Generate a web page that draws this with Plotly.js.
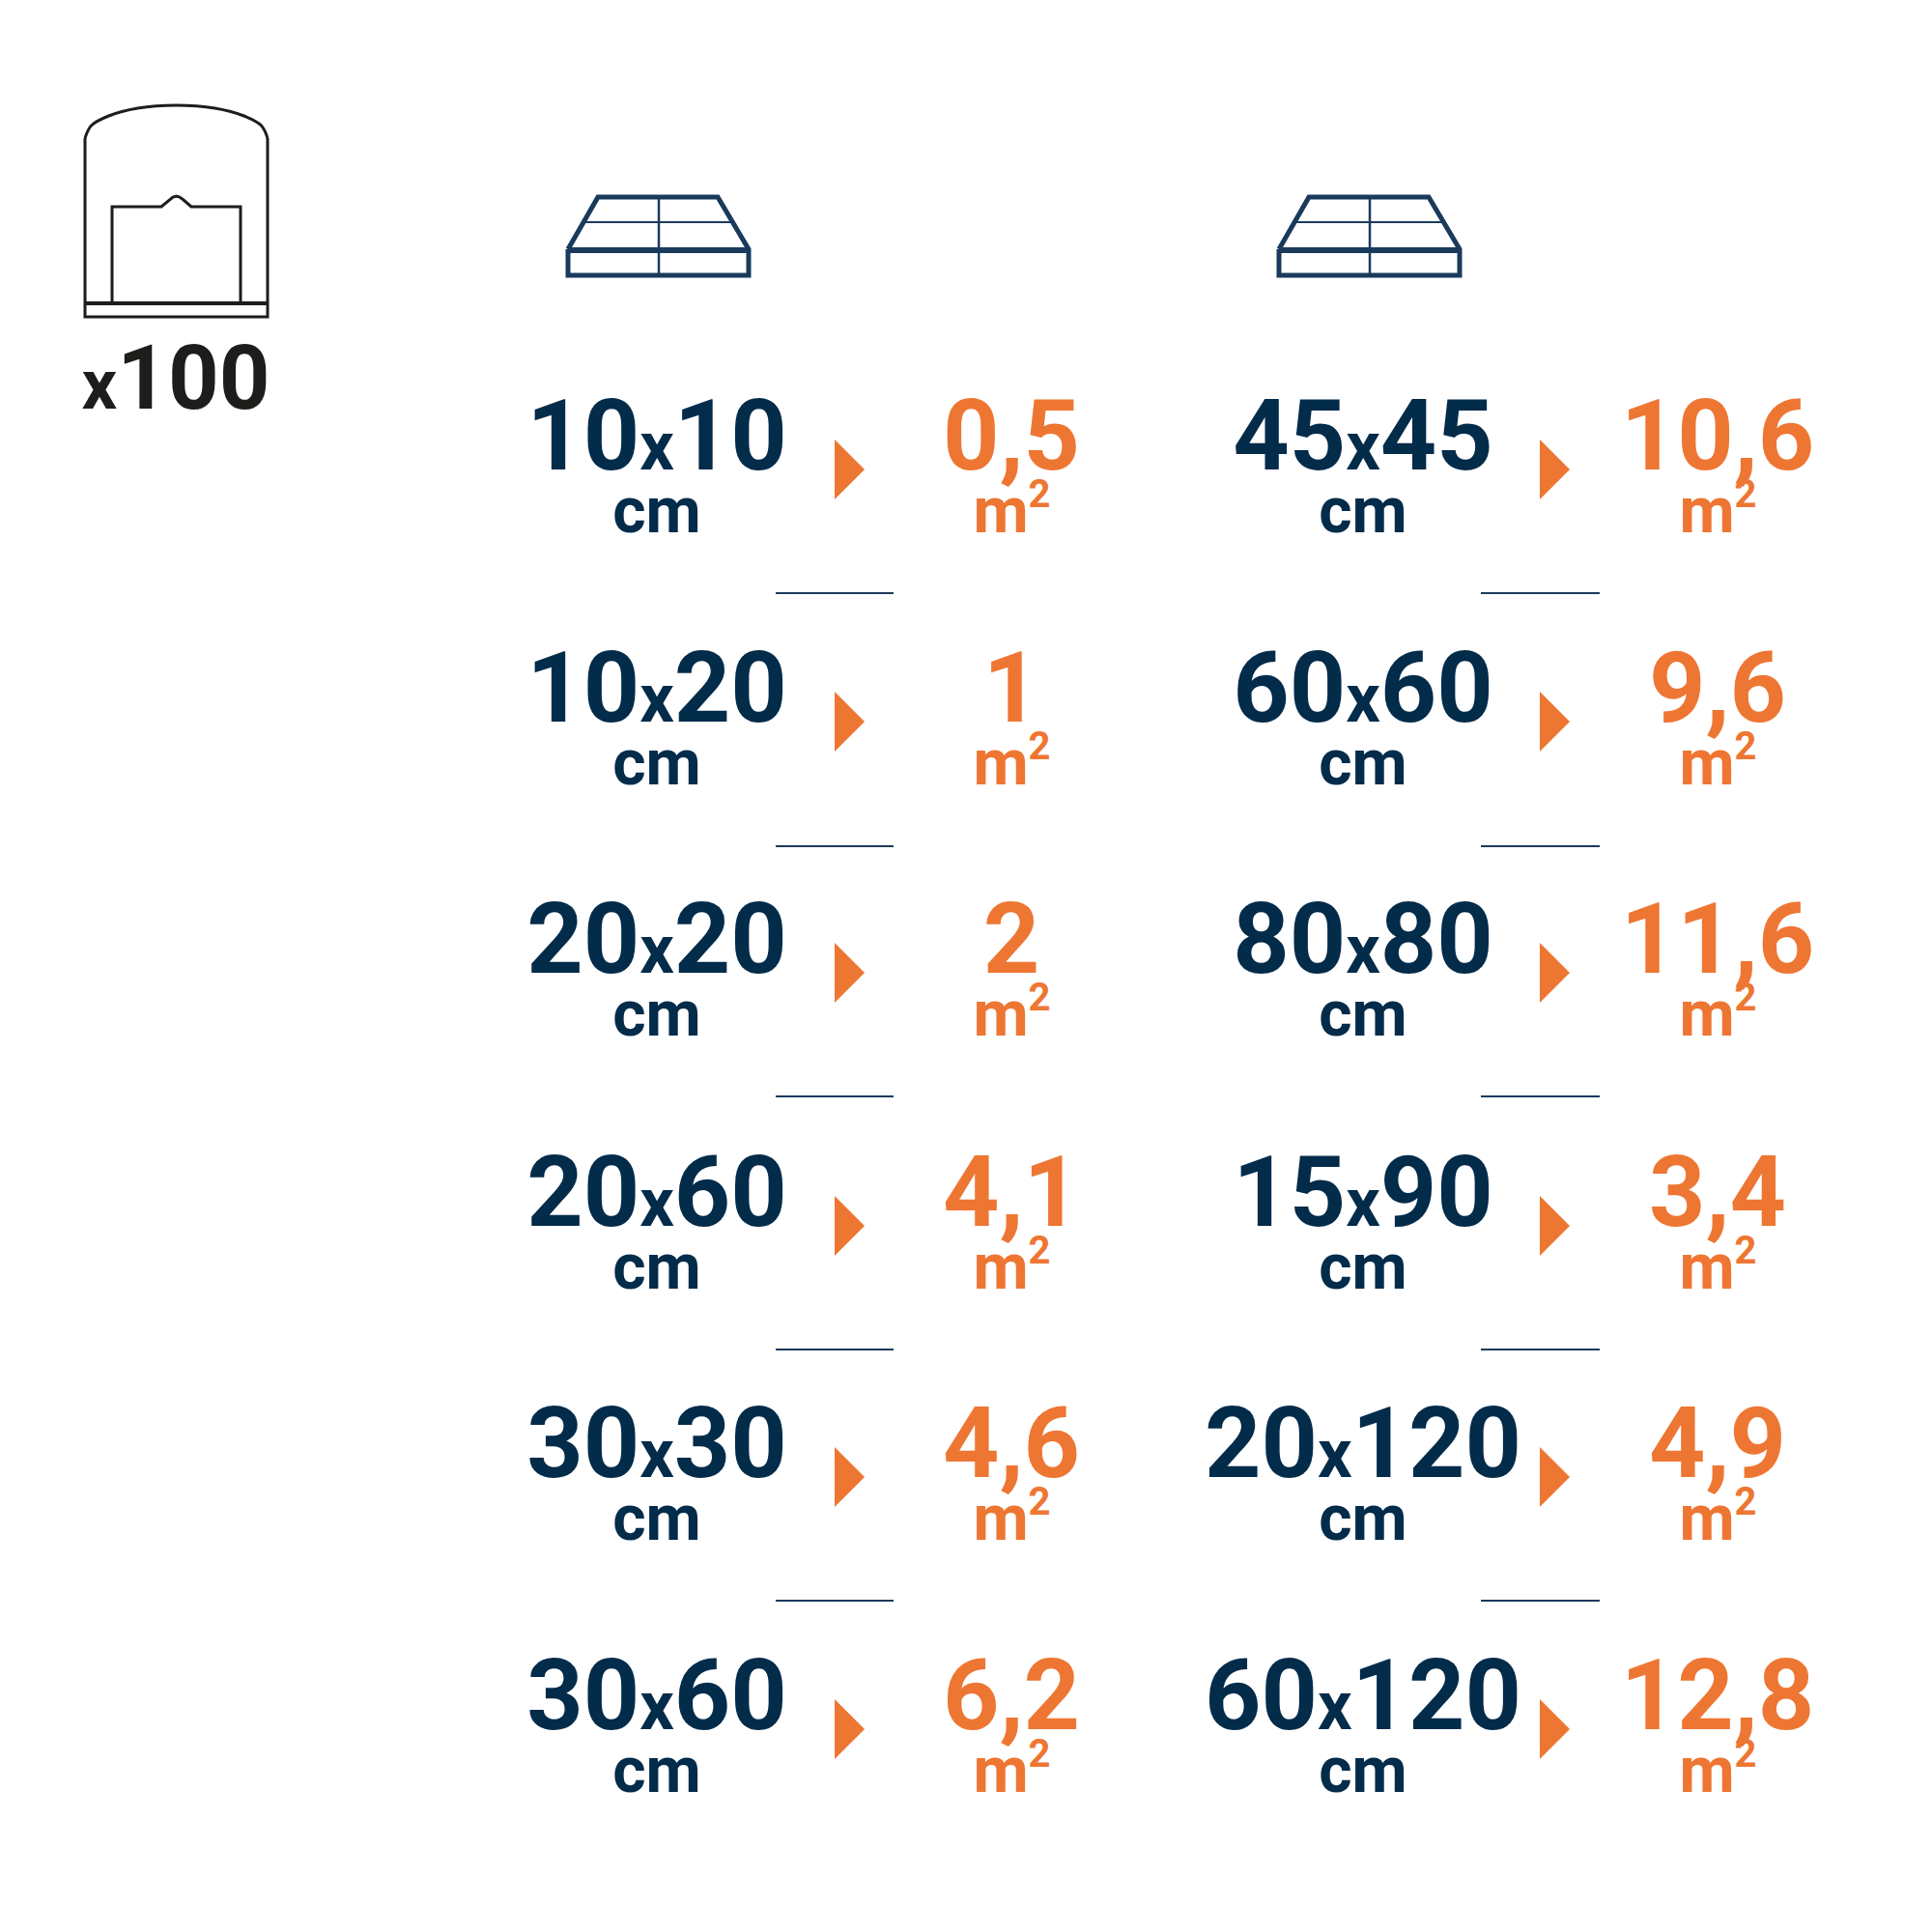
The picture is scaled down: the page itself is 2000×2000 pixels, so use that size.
<!DOCTYPE html>
<html><head><meta charset="utf-8">
<script src="https://cdn.plot.ly/plotly-3.0.1.min.js"></script>
<style>html,body{margin:0;padding:0;background:#fff}</style></head>
<body><div id="chart" style="width:2000px;height:2000px"></div>
<script>
// ---- data ----
const sizesLeft  = ["10x10","10x20","20x20","20x60","30x30","30x60"];
const areasLeft  = [0.5,1,2,4.1,4.6,6.2];
const sizesRight = ["45x45","60x60","80x80","15x90","20x120","60x120"];
const areasRight = [10.6,9.6,11.6,3.4,4.9,12.8];
const sizeUnit = "cm";
const areaUnit = "m";
const areaExp = "2";
const packLabel = "100";
// ---- layout helpers ----
const rowY = [486,747,1007,1269,1529,1790];
const sepY = [614,876,1135,1397,1657];
const sizeX = [680,1411];
const arrowX = [864,1594];
const areaX = [1047,1778];
const sepX = [[803,925],[1533,1656]];
const navy="#032b4a", orange="#ee7633", ink="#1d1d1b", iconNavy="#1a3a5c";
const FONT="Roboto";
const fmtSize = s => s.replace("x",'<span style="font-size:70px">x</span>');
const fmtArea = v => String(v).replace(".",",");

const traces=[];
function text(xs,ys,labels,size,color){
  traces.push({type:"scatter",mode:"text",x:xs,y:ys,text:labels,textposition:"middle center",
    textfont:{family:FONT,size:size,color:color,weight:700},hoverinfo:"skip",cliponaxis:false});
}
function line(xs,ys,color,w,shape){
  traces.push({type:"scatter",mode:"lines",x:xs,y:ys,line:{color:color,width:w,shape:shape||"linear",smoothing:1},hoverinfo:"skip"});
}
const columns=[[sizesLeft,areasLeft],[sizesRight,areasRight]];
columns.forEach((c,i)=>{
  text(rowY.map(()=>sizeX[i]),rowY.map(y=>y-26),c[0].map(fmtSize),102,navy);
  text(rowY.map(()=>sizeX[i]),rowY.map(y=>y+48),c[0].map(()=>sizeUnit),66,navy);
  text(rowY.map(()=>areaX[i]),rowY.map(y=>y-26),c[1].map(fmtArea),102,orange);
  text(rowY.map(()=>areaX[i]-11),rowY.map(y=>y+48),c[1].map(()=>areaUnit),66,orange);
  text(rowY.map(()=>areaX[i]+29),rowY.map(y=>y+29),c[1].map(()=>areaExp),40,orange);
  // arrows
  rowY.forEach(y=>{
    traces.push({type:"scatter",mode:"lines",fill:"toself",fillcolor:orange,line:{width:0,color:orange},
      x:[arrowX[i],arrowX[i]+31,arrowX[i],arrowX[i]],y:[y-31,y,y+31,y-31],hoverinfo:"skip"});
  });
  // separators
  sepY.forEach(y=>line(sepX[i],[y,y],iconNavy,2));
  // pallet icon
  const ox=i===0?0:736;
  const sx=a=>a.map(v=>v+ox);
  line(sx([588,619,743,775,775,588,588]),[258,204,204,258,285,285,258],iconNavy,5);
  line(sx([588,775]),[259,259],iconNavy,6);
  line(sx([682,682]),[204,285],iconNavy,2.5);
  line(sx([605,758]),[230,230],iconNavy,2);
});
// box icon
const boxTopX=[88,94.5,112.5,142.5,182.5,222.5,252.5,270.5,277];
const boxTopY=[143,130,120,112,109,112,120,130,143];
line(boxTopX,boxTopY,ink,3,"spline");
line([88,88,277,277],[143,328,328,143],ink,3);
line([88,277],[314,314],ink,4);
line([116,116,167,175,179,182.5,186,190,198,249,249],[314,214,214,207,204,203,204,207,214,214,314],ink,3);
// x100 label
text([182],[400],['<span style="font-size:72px">x</span>'+packLabel],92,ink);

const layout={width:2000,height:2000,margin:{l:0,r:0,t:0,b:0},showlegend:false,
  paper_bgcolor:"#fff",plot_bgcolor:"#fff",
  xaxis:{range:[0,2000],visible:false,fixedrange:true},
  yaxis:{range:[2000,0],visible:false,fixedrange:true}};
Plotly.newPlot("chart",traces,layout,{displayModeBar:false,staticPlot:true});
</script></body></html>
